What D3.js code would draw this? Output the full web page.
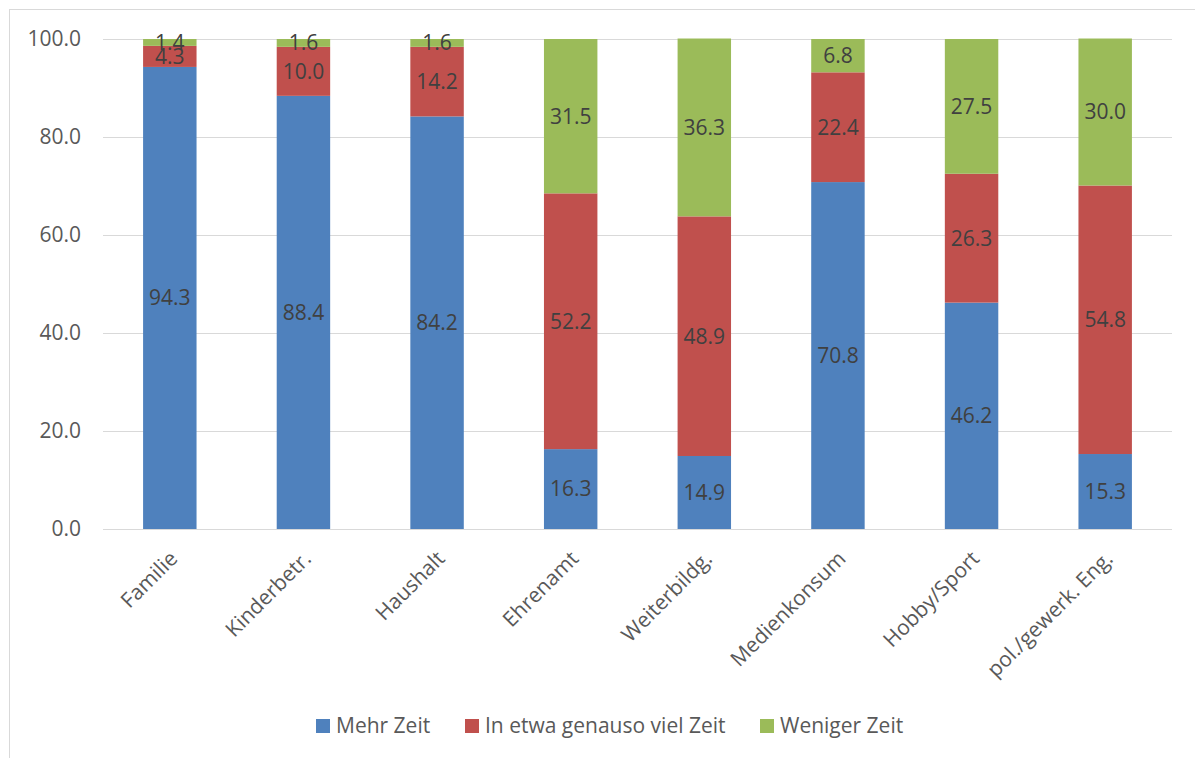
<!DOCTYPE html>
<html>
<head>
<meta charset="utf-8">
<script src="https://cdn.jsdelivr.net/npm/d3@7"></script>
<style>
  body { margin: 0; background: #fff; }
  text { font-family: "Open Sans", "Noto Sans", sans-serif; }
</style>
</head>
<body>
<svg id="chart" width="1195" height="758"></svg>
<script>
// categories and the three stacked series (percent)
var categories = ["Familie", "Kinderbetr.", "Haushalt", "Ehrenamt", "Weiterbildg.", "Medienkonsum", "Hobby/Sport", "pol./gewerk. Eng."];
var mehrZeit = [94.3, 88.4, 84.2, 16.3, 14.9, 70.8, 46.2, 15.3];
var gleichZeit = [4.3, 10.0, 14.2, 52.2, 48.9, 22.4, 26.3, 54.8];
var wenigerZeit = [1.4, 1.6, 1.6, 31.5, 36.3, 6.8, 27.5, 30.0];
var seriesNames = ["Mehr Zeit", "In etwa genauso viel Zeit", "Weniger Zeit"];
var yTicks = [0, 20, 40, 60, 80, 100];

var colors = ["#4f81bd", "#c0504d", "#9bbb59"];
var svg = d3.select("#chart");

// outer frame
svg.append("rect")
    .attr("x", 9.5).attr("y", 9.5)
    .attr("width", 1200).attr("height", 800)
    .style("fill", "none").style("stroke", "#d9d9d9").style("stroke-width", "1px");

var plotL = 103, plotR = 1172, plotT = 39, plotB = 529;

var x = d3.scaleBand().domain(categories).range([plotL, plotR]).paddingInner(0.6).paddingOuter(0.3);
var y = d3.scaleLinear().domain([0, 100]).range([plotB, plotT]);

// gridlines
svg.selectAll(".grid")
    .data(yTicks)
    .enter()
    .append("line")
    .attr("x1", plotL).attr("x2", plotR)
    .attr("y1", function(d){return y(d) + 0.5;})
    .attr("y2", function(d){return y(d) + 0.5;})
    .style("stroke", "#d9d9d9")
    .style("stroke-width", "1px");

// y tick labels
svg.selectAll(".ytick")
    .data(yTicks)
    .enter()
    .append("text")
    .attr("x", 81)
    .attr("y", function(d){return y(d);})
    .attr("dy", "0.35em")
    .attr("text-anchor", "end")
    .style("font-size", "21px")
    .style("fill", "#595959")
    .text(function(d){return d3.format(".1f")(d);});

var rows = categories.map(function(c, i){
    return {cat: c, a: mehrZeit[i], b: gleichZeit[i], c: wenigerZeit[i]};
});
var stack = d3.stack().keys(["a", "b", "c"]);
var layers = stack(rows);

var g = svg.selectAll(".layer")
    .data(layers)
    .enter()
    .append("g")
    .style("fill", function(d, i){return colors[i];});

g.selectAll("rect")
    .data(function(d){return d;})
    .enter()
    .append("rect")
    .attr("x", function(d){return x(d.data.cat);})
    .attr("width", x.bandwidth())
    .attr("y", function(d){return y(d[1]);})
    .attr("height", function(d){return y(d[0]) - y(d[1]);});

// data labels
g.selectAll("text")
    .data(function(d){return d;})
    .enter()
    .append("text")
    .attr("x", function(d){return x(d.data.cat) + x.bandwidth()/2;})
    .attr("y", function(d){return (y(d[0]) + y(d[1]))/2;})
    .attr("dy", "0.35em")
    .attr("text-anchor", "middle")
    .style("font-size", "21px")
    .style("fill", "#404040")
    .text(function(d){return d3.format(".1f")(d[1] - d[0]);});

// x labels, rotated
svg.selectAll(".xlab")
    .data(categories)
    .enter()
    .append("text")
    .attr("text-anchor", "end")
    .attr("transform", function(d){
        return "translate(" + (x(d) + x.bandwidth()/2 + 9) + "," + 560 + ") rotate(-45)";
    })
    .style("font-size", "21px")
    .style("fill", "#595959")
    .text(function(d){return d;});

// legend
var legendX = [316, 465, 760];
var legend = svg.selectAll(".legend")
    .data(seriesNames)
    .enter()
    .append("g")
    .attr("transform", function(d, i){return "translate(" + legendX[i] + ",726)";});
legend.append("rect")
    .attr("x", 0).attr("y", -7)
    .attr("width", 14).attr("height", 14)
    .style("fill", function(d, i){return colors[i];});
legend.append("text")
    .attr("x", 20)
    .attr("dy", "0.35em")
    .style("font-size", "21px")
    .style("fill", "#595959")
    .text(function(d){return d;});
</script>
</body>
</html>
